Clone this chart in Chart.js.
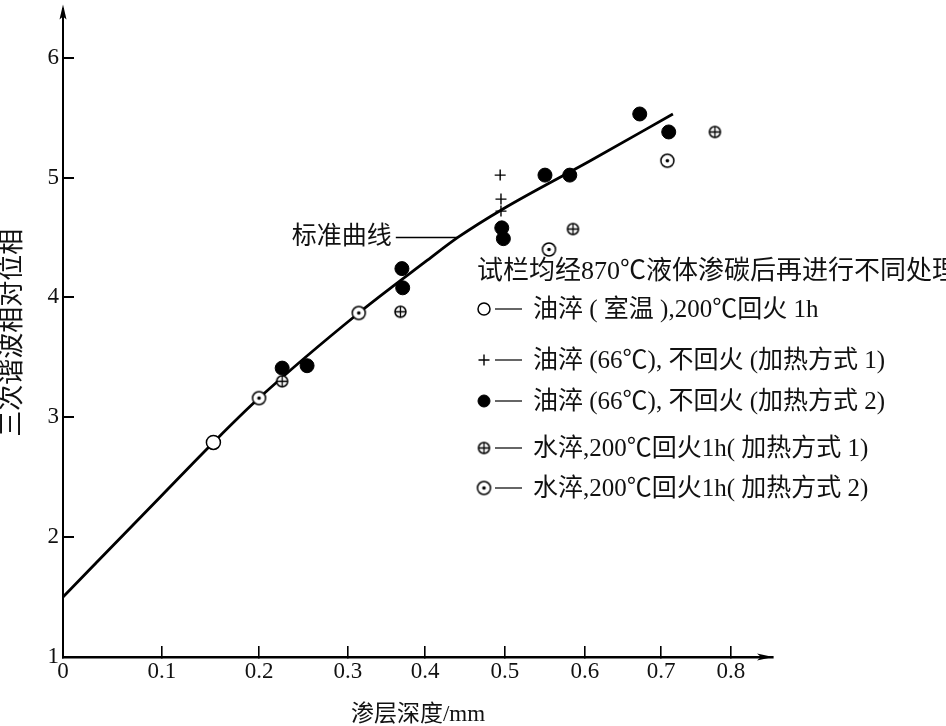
<!DOCTYPE html>
<html>
<head>
<meta charset="utf-8">
<title>渗层深度与三次谐波相对位相</title>
<script src="https://cdn.jsdelivr.net/npm/chart.js@4.4.1/dist/chart.umd.min.js"></script>
<style>
    html, body { margin: 0; padding: 0; background: #fff; }
    #wrap { width: 946px; height: 726px; }
</style>
</head>
<body>
<div id="wrap"><canvas id="phaseChart" width="946" height="726"></canvas></div>
<script>
// --- tick labels ---
const depthTicks = [0, 0.1, 0.2, 0.3, 0.4, 0.5, 0.6, 0.7, 0.8];
const phaseTicks = [1, 2, 3, 4, 5, 6];

// --- standard curve (标准曲线) ---
const curveDepth = [0, 0.1, 0.153, 0.2, 0.314, 0.403, 0.441, 0.498, 0.607, 0.717];
const curvePhase = [1.5, 2.35, 2.79, 3.16, 3.87, 4.31, 4.5, 4.74, 5.14, 5.53];

// --- measured points, one pair of arrays per treatment ---
const oilRoomDepth = [0.153];
const oilRoomPhase = [2.79];

const oil66aDepth = [0.494, 0.495, 0.495];
const oil66aPhase = [5.02, 4.82, 4.72];

const oil66bDepth = [0.226, 0.254, 0.370, 0.371, 0.496, 0.498, 0.550, 0.581, 0.672, 0.711];
const oil66bPhase = [3.41, 3.43, 4.24, 4.08, 4.58, 4.49, 5.02, 5.02, 5.53, 5.38];

const waterADepth = [0.226, 0.368, 0.585, 0.777];
const waterAPhase = [3.30, 3.88, 4.57, 5.38];

const waterBDepth = [0.200, 0.314, 0.555, 0.709];
const waterBPhase = [3.16, 3.87, 4.40, 5.14];

const legendTitle = '试栏均经870℃液体渗碳后再进行不同处理';

const pairs = (xs, ys) => xs.map((x, i) => ({ x: x, y: ys[i] }));

const serif = '"Liberation Serif", "Noto Sans CJK SC", serif';

// The printed depth axis is not evenly divided, so the scale maps
// values piecewise between the tick stops.
class UnevenLinearScale extends Chart.LinearScale {
    _stops() {
        return [this.options.stopValues, this.options.stopFractions];
    }
    getPixelForValue(value) {
        if (value === null || value === undefined || isNaN(value)) return NaN;
        const [vals, fr] = this._stops();
        let i = 1;
        while (i < vals.length - 1 && value > vals[i]) i++;
        const t = (value - vals[i - 1]) / (vals[i] - vals[i - 1]);
        return this.getPixelForDecimal(fr[i - 1] + t * (fr[i] - fr[i - 1]));
    }
    getValueForPixel(pixel) {
        const [vals, fr] = this._stops();
        const d = this.getDecimalForPixel(pixel);
        let i = 1;
        while (i < fr.length - 1 && d > fr[i]) i++;
        const t = (d - fr[i - 1]) / (fr[i] - fr[i - 1]);
        return vals[i - 1] + t * (vals[i] - vals[i - 1]);
    }
}
UnevenLinearScale.id = 'unevenLinear';
UnevenLinearScale.defaults = Chart.LinearScale.defaults;
Chart.register(UnevenLinearScale);

// --- marker glyphs ---
function makeGlyph(size, r, withCross, withDot) {
    const c = document.createElement('canvas');
    c.width = c.height = size;
    const g = c.getContext('2d');
    const m = size / 2;
    g.fillStyle = '#fff';
    g.strokeStyle = '#000';
    g.lineWidth = 1.5;
    g.beginPath();
    g.arc(m, m, r, 0, Math.PI * 2);
    g.fill();
    g.stroke();
    if (withCross) {
        g.lineWidth = 1.3;
        g.beginPath();
        g.moveTo(m - r, m); g.lineTo(m + r, m);
        g.moveTo(m, m - r); g.lineTo(m, m + r);
        g.stroke();
    }
    if (withDot) {
        g.fillStyle = '#000';
        g.beginPath();
        g.arc(m, m, 1.8, 0, Math.PI * 2);
        g.fill();
    }
    return c;
}
const crossCircle = makeGlyph(15, 5.5, true, false);
const dotCircle = makeGlyph(17, 6.5, false, true);

function drawMarker(ctx, ds, x, y) {
    const st = ds.pointStyle;
    ctx.save();
    if (st instanceof HTMLCanvasElement) {
        ctx.drawImage(st, x - st.width / 2, y - st.height / 2);
    } else if (st === 'cross') {
        ctx.strokeStyle = ds.pointBorderColor;
        ctx.lineWidth = ds.pointBorderWidth;
        ctx.beginPath();
        ctx.moveTo(x - ds.pointRadius, y); ctx.lineTo(x + ds.pointRadius, y);
        ctx.moveTo(x, y - ds.pointRadius); ctx.lineTo(x, y + ds.pointRadius);
        ctx.stroke();
    } else {
        ctx.fillStyle = ds.pointBackgroundColor;
        ctx.strokeStyle = ds.pointBorderColor;
        ctx.lineWidth = ds.pointBorderWidth;
        ctx.beginPath();
        ctx.arc(x, y, ds.pointRadius - 1, 0, Math.PI * 2);
        ctx.fill();
        ctx.stroke();
    }
    ctx.restore();
}

// arrows, the curve label and the in-plot legend
const figureExtras = {
    id: 'figureExtras',
    afterDraw(chart, args, opts) {
        const { ctx, chartArea: area, scales } = chart;
        const xs = scales.x, ys = scales.y;
        ctx.save();
        ctx.fillStyle = '#000';
        ctx.strokeStyle = '#000';

        // axis arrow heads
        ctx.beginPath();
        ctx.moveTo(area.left, area.top - 4);
        ctx.lineTo(area.left - 3.5, area.top + 11);
        ctx.lineTo(area.left, area.top + 8);
        ctx.lineTo(area.left + 3.5, area.top + 11);
        ctx.closePath();
        ctx.fill();
        ctx.beginPath();
        ctx.moveTo(area.right, area.bottom);
        ctx.lineTo(area.right - 16, area.bottom - 3.5);
        ctx.lineTo(area.right - 12, area.bottom);
        ctx.lineTo(area.right - 16, area.bottom + 3.5);
        ctx.closePath();
        ctx.fill();

        // 标准曲线 label with its leader line
        const note = opts.note;
        const nx = xs.getPixelForValue(note.x);
        const ny = ys.getPixelForValue(note.y);
        ctx.lineWidth = 1.6;
        ctx.beginPath();
        ctx.moveTo(nx - note.leader, ny);
        ctx.lineTo(nx, ny);
        ctx.stroke();
        ctx.fillStyle = '#111';
        ctx.font = '25px ' + serif;
        ctx.textAlign = 'right';
        ctx.textBaseline = 'middle';
        ctx.fillText(note.text, nx - note.leader - 4, ny);

        // legend block
        const lg = opts.legend;
        ctx.textAlign = 'left';
        ctx.font = '26px ' + serif;
        ctx.fillText(lg.title, lg.left, lg.rows[0]);
        ctx.font = '25px ' + serif;
        lg.datasets.forEach((di, k) => {
            const ds = chart.data.datasets[di];
            const ry = lg.rows[k + 1];
            drawMarker(ctx, ds, lg.left + 7, ry);
            ctx.lineWidth = 1.2;
            ctx.strokeStyle = '#000';
            ctx.beginPath();
            ctx.moveTo(lg.left + 18, ry);
            ctx.lineTo(lg.left + 45, ry);
            ctx.stroke();
            ctx.fillStyle = '#111';
            ctx.fillText(ds.label, lg.left + 56, ry + 1);
        });
        ctx.restore();
    }
};

const ctx = document.getElementById('phaseChart').getContext('2d');
const phaseChart = new Chart(ctx, {
    type: 'scatter',
    data: {
        datasets: [
            {
                label: '油淬 ( 室温 ),200℃回火 1h',
                data: pairs(oilRoomDepth, oilRoomPhase),
                pointStyle: 'circle',
                pointRadius: 7,
                pointBorderWidth: 1.5,
                pointBackgroundColor: '#fff',
                pointBorderColor: '#000'
            },
            {
                label: '油淬 (66℃), 不回火 (加热方式 1)',
                data: pairs(oil66aDepth, oil66aPhase),
                pointStyle: 'cross',
                pointRadius: 5.5,
                pointBorderWidth: 1.4,
                pointBackgroundColor: '#000',
                pointBorderColor: '#000'
            },
            {
                label: '油淬 (66℃), 不回火 (加热方式 2)',
                data: pairs(oil66bDepth, oil66bPhase),
                pointStyle: 'circle',
                pointRadius: 7,
                pointBorderWidth: 1,
                pointBackgroundColor: '#000',
                pointBorderColor: '#000'
            },
            {
                label: '水淬,200℃回火1h( 加热方式 1)',
                data: pairs(waterADepth, waterAPhase),
                pointStyle: crossCircle,
                pointRadius: 6,
                pointBorderWidth: 1.5,
                pointBackgroundColor: '#fff',
                pointBorderColor: '#000'
            },
            {
                label: '水淬,200℃回火1h( 加热方式 2)',
                data: pairs(waterBDepth, waterBPhase),
                pointStyle: dotCircle,
                pointRadius: 7,
                pointBorderWidth: 1.5,
                pointBackgroundColor: '#fff',
                pointBorderColor: '#000'
            },
            {
                label: '标准曲线',
                data: pairs(curveDepth, curvePhase),
                showLine: true,
                pointRadius: 0,
                borderColor: '#000',
                borderWidth: 2.8,
                cubicInterpolationMode: 'monotone',
                order: 10
            }
        ]
    },
    options: {
        responsive: false,
        animation: false,
        layout: { padding: { left: 0, right: 173, top: 0, bottom: 0 } },
        plugins: {
            legend: { display: false },
            tooltip: { enabled: false },
            figureExtras: {
                note: { text: '标准曲线', x: 0.441, y: 4.5, leader: 62 },
                legend: {
                    title: legendTitle,
                    left: 477,
                    rows: [272, 309, 360, 401, 448, 488],
                    datasets: [0, 1, 2, 3, 4]
                }
            }
        },
        scales: {
            x: {
                type: 'unevenLinear',
                min: 0,
                max: 0.86,
                stopValues: depthTicks.concat([0.86]),
                stopFractions: [0, 0.1394, 0.2761, 0.4014, 0.5099, 0.6225, 0.7352, 0.8423, 0.9408, 1],
                afterBuildTicks: s => { s.ticks = depthTicks.map(v => ({ value: v })); },
                afterFit: s => {
                    s.height = 69;
                    s.paddingLeft = 0; s.paddingRight = 0;
                    s.paddingTop = 0; s.paddingBottom = 0;
                },
                border: { display: true, color: '#000', width: 2.5 },
                grid: { drawOnChartArea: false, color: '#000', lineWidth: 1.6, tickLength: -11 },
                ticks: {
                    autoSkip: false,
                    maxRotation: 0,
                    padding: 12,
                    color: '#111',
                    font: { family: serif, size: 23 },
                    callback: v => String(+v.toFixed(1))
                },
                title: {
                    display: true,
                    text: '渗层深度/mm',
                    color: '#111',
                    font: { family: serif, size: 23, lineHeight: 1 },
                    padding: 0
                }
            },
            y: {
                type: 'linear',
                min: 1,
                max: 6.41,
                afterBuildTicks: s => { s.ticks = phaseTicks.map(v => ({ value: v })); },
                afterFit: s => {
                    s.width = 63;
                    s.paddingLeft = 0; s.paddingRight = 0;
                    s.paddingTop = 0; s.paddingBottom = 0;
                },
                border: { display: true, color: '#000', width: 2 },
                grid: { drawOnChartArea: false, color: '#000', lineWidth: 2, tickLength: -11 },
                ticks: {
                    padding: 15,
                    color: '#111',
                    font: { family: serif, size: 23 }
                },
                title: {
                    display: true,
                    text: '三次谐波相对位相',
                    color: '#111',
                    font: { family: serif, size: 26, lineHeight: 1 },
                    padding: 0
                }
            }
        }
    },
    plugins: [figureExtras]
});
</script>
</body>
</html>
